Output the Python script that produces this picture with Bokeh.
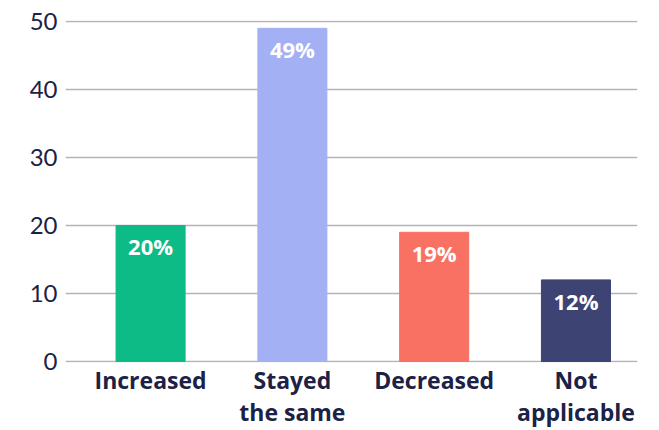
from bokeh.plotting import figure
from bokeh.models import ColumnDataSource, Range1d, FixedTicker
from bokeh.core.properties import value
from bokeh.embed import file_html
from bokeh.resources import INLINE

categories = ["Increased", "Stayed\nthe same", "Decreased", "Not\napplicable"]
values = [20, 49, 19, 12]
labels = ["20%", "49%", "19%", "12%"]
colors = ["#0dbb87", "#a3b1f4", "#f87163", "#3d4373"]
y_ticks = [0, 10, 20, 30, 40, 50]

xs = list(range(len(categories)))
src = ColumnDataSource(dict(x=xs, top=values, label=labels, color=colors))

TEXT = "#1c2246"
HEAVY = "Open Sans"

p = figure(width=659, height=430, output_backend="svg", toolbar_location=None,
           x_range=Range1d(-0.6, 3.434), y_range=Range1d(-0.15, 50.15),
           min_border_left=65, min_border_right=22, min_border_top=20, min_border_bottom=68)
p.outline_line_color = None
p.background_fill_color = "white"
p.border_fill_color = "white"

p.vbar(x="x", top="top", bottom=0, width=0.487, color="color", source=src)
p.text(x="x", y="top", text="label", source=src, text_align="center", text_baseline="top",
       y_offset=6, text_color="white", text_font=value(HEAVY), text_font_style="bold",
       text_font_size="22px")

p.xgrid.grid_line_color = None
p.ygrid.grid_line_color = "#b3b3c0"
p.ygrid.grid_line_width = 1.5
p.ygrid.ticker = FixedTicker(ticks=y_ticks)

p.yaxis.ticker = FixedTicker(ticks=y_ticks)
p.yaxis.axis_line_color = None
p.yaxis.major_tick_line_color = None
p.yaxis.minor_tick_line_color = None
p.yaxis.major_tick_out = 0
p.yaxis.major_tick_in = 0
p.yaxis.major_label_text_font = "Lato"
p.yaxis.major_label_text_font_size = "24px"
p.yaxis.major_label_text_color = TEXT
p.yaxis.major_label_standoff = 8

p.xaxis.ticker = FixedTicker(ticks=xs)
p.xaxis.major_label_overrides = {i: c for i, c in enumerate(categories)}
p.xaxis.axis_line_color = None
p.xaxis.major_tick_line_color = None
p.xaxis.minor_tick_line_color = None
p.xaxis.major_tick_out = 0
p.xaxis.major_tick_in = 0
p.xaxis.major_label_text_font = HEAVY
p.xaxis.major_label_text_font_style = "bold"
p.xaxis.major_label_text_font_size = "23px"
p.xaxis.major_label_text_color = TEXT
p.xaxis.major_label_text_line_height = 1.0
p.xaxis.major_label_standoff = 1

open("out.html", "w").write(file_html(p, INLINE))
